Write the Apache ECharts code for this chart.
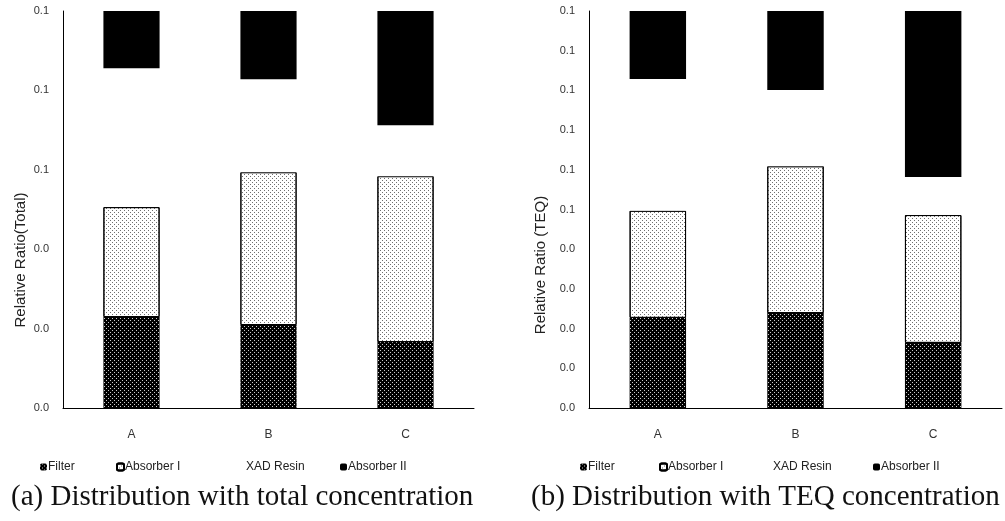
<!DOCTYPE html>
<html>
<head>
<meta charset="utf-8">
<script src="https://cdn.jsdelivr.net/npm/echarts@6/dist/echarts.min.js"></script>
<style>
html,body{margin:0;padding:0;background:#fff;}
#chart{width:1005px;height:521px;}
</style>
</head>
<body>
<div id="chart"></div>
<script>
// ---- data ----
const categories = ['A', 'B', 'C'];
const seriesNames = ['Filter', 'Absorber I', 'XAD Resin', 'Absorber II'];

// (a) total concentration
const totalFilter     = [0.0229, 0.0209, 0.0166];
const totalAbsorber1  = [0.0277, 0.0385, 0.0418];
const totalXAD        = [0.0350, 0.0234, 0.0128];
const totalAbsorber2  = [0.0144, 0.0172, 0.0288];

// (b) TEQ concentration
const teqFilter       = [0.0227, 0.0239, 0.0164];
const teqAbsorber1    = [0.0270, 0.0370, 0.0322];
const teqXAD          = [0.0332, 0.0192, 0.0096];
const teqAbsorber2    = [0.0171, 0.0199, 0.0418];

// tick labels as printed
const totalTickLabels = ['0.0', '0.0', '0.0', '0.1', '0.1', '0.1'];
const teqTickLabels   = ['0.0', '0.0', '0.0', '0.0', '0.0', '0.1', '0.1', '0.1', '0.1', '0.1', '0.1'];

const yTitles = ['Relative Ratio(Total)', 'Relative Ratio (TEQ)'];
const captions = ['(a) Distribution with total concentration', '(b) Distribution with TEQ concentration'];

// ---- styles ----
const FONT = 'Liberation Sans, Arial, sans-serif';
const SERIF = 'Liberation Serif, Times New Roman, serif';
const styles = [
  { color: '#000', decal: { symbol: 'rect', symbolSize: 1, color: 'rgba(255,255,255,0.8)',
      dashArrayX: [[1, 3], [0, 2, 1, 1]], dashArrayY: [1, 1] } },
  { color: '#fff', borderColor: '#000', borderWidth: 1,
    decal: { symbol: 'rect', symbolSize: 1, color: 'rgba(50,50,50,0.7)',
      dashArrayX: [[1, 3], [0, 2, 1, 1]], dashArrayY: [1, 1] } },
  { color: '#fff' },
  { color: '#000' }
];

const chart = echarts.init(document.getElementById('chart'), null, { renderer: 'canvas' });

function buildSeries(gridIdx, arrays) {
  return arrays.map((arr, i) => ({
    name: seriesNames[i],
    type: 'bar',
    stack: 'g' + gridIdx,
    xAxisIndex: gridIdx,
    yAxisIndex: gridIdx,
    barWidth: '41%',
    data: arr,
    itemStyle: styles[i],
    emphasis: { disabled: true },
    animation: false
  }));
}

function yAxis(gridIdx, interval, labels) {
  return {
    gridIndex: gridIdx,
    type: 'value',
    min: 0, max: 0.1, interval: interval,
    axisLine: { show: true, lineStyle: { color: '#000', width: 1 } },
    axisTick: { show: false },
    splitLine: { show: false },
    axisLabel: {
      color: '#333', fontSize: 11, fontFamily: FONT, margin: 14,
      formatter: v => labels[Math.round(v / interval)]
    }
  };
}

function xAxis(gridIdx) {
  return {
    gridIndex: gridIdx,
    type: 'category',
    data: categories,
    axisLine: { show: true, lineStyle: { color: '#000', width: 1 } },
    axisTick: { show: false },
    axisLabel: { color: '#333', fontSize: 12, fontFamily: FONT, margin: 21 }
  };
}

// one legend entry per item so each sits where the reference has it
const legendLefts = [[35, 111, 233, 335], [575, 654, 760, 868]];
const legends = [];
legendLefts.forEach(row => row.forEach((x, i) => {
  legends.push({
    data: [seriesNames[i]],
    left: x, top: 456,
    itemWidth: 7, itemHeight: 7, itemGap: 0,
    selectedMode: false,
    textStyle: { fontSize: 12, color: '#222', fontFamily: FONT, padding: [0, 0, 0, -4] }
  });
}));

chart.setOption({
  animation: false,
  backgroundColor: '#fff',
  grid: [
    { left: 63, top: 11, width: 411, height: 397 },
    { left: 589, top: 11, width: 413, height: 397 }
  ],
  xAxis: [xAxis(0), xAxis(1)],
  yAxis: [yAxis(0, 0.02, totalTickLabels), yAxis(1, 0.01, teqTickLabels)],
  legend: legends,
  title: [
    { text: captions[0], left: 6, top: 478,
      textStyle: { fontFamily: SERIF, fontSize: 29, fontWeight: 'normal', color: '#111' } },
    { text: captions[1], left: 526, top: 478,
      textStyle: { fontFamily: SERIF, fontSize: 29, fontWeight: 'normal', color: '#111' } }
  ],
  graphic: [
    { type: 'text', x: 13, y: 260, rotation: Math.PI / 2,
      style: { text: yTitles[0], fontSize: 15, fontFamily: FONT, fill: '#222', align: 'center', verticalAlign: 'top' } },
    { type: 'text', x: 533, y: 265, rotation: Math.PI / 2,
      style: { text: yTitles[1], fontSize: 15, fontFamily: FONT, fill: '#222', align: 'center', verticalAlign: 'top' } }
  ],
  series: [
    ...buildSeries(0, [totalFilter, totalAbsorber1, totalXAD, totalAbsorber2]),
    ...buildSeries(1, [teqFilter, teqAbsorber1, teqXAD, teqAbsorber2])
  ]
});
</script>
</body>
</html>
